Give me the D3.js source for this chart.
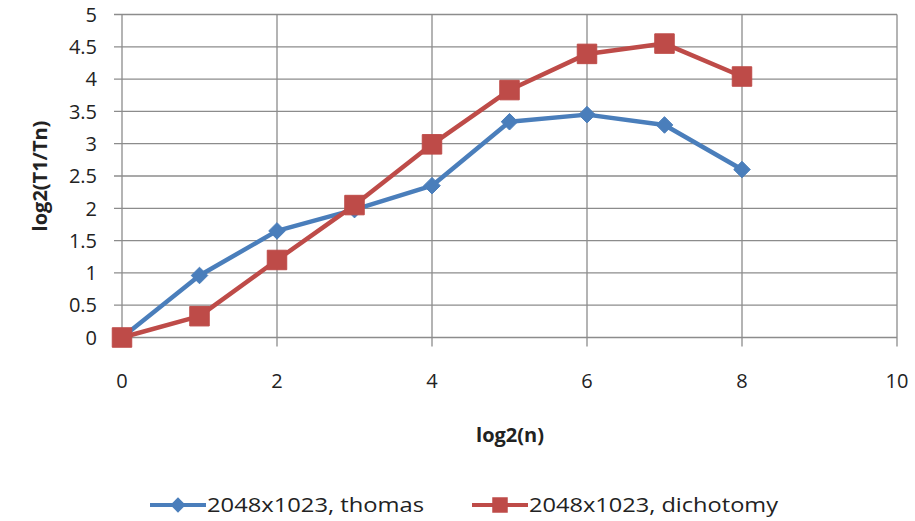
<!DOCTYPE html>
<html>
<head>
<meta charset="utf-8">
<script src="https://cdn.jsdelivr.net/npm/d3@7"></script>
<style>
  body { margin: 0; background: #fff; }
  text { font-family: "Open Sans", "Liberation Sans", sans-serif; fill: #222; }
</style>
</head>
<body>
<script>
//Width and height
var w = 915;
var h = 521;

//Data
var xValues = [0, 1, 2, 3, 4, 5, 6, 7, 8];
var thomas = [0, 0.96, 1.65, 1.98, 2.35, 3.34, 3.45, 3.29, 2.6];
var dichotomy = [0, 0.33, 1.2, 2.05, 2.99, 3.83, 4.39, 4.55, 4.04];
var seriesNames = ["2048x1023, thomas", "2048x1023, dichotomy"];
var xTicks = [0, 2, 4, 6, 8, 10];
var yTicks = [0, 0.5, 1, 1.5, 2, 2.5, 3, 3.5, 4, 4.5, 5];

var blue = "#4a7ebb";
var red = "#be4b48";
var grid = "#8c8c8c";

//Scales
var xScale = d3.scaleLinear().domain([0, 10]).range([122, 897]);
var yScale = d3.scaleLinear().domain([0, 5]).range([337.5, 14.5]);

var svg = d3.select("body")
    .append("svg")
    .attr("width", w)
    .attr("height", h);

//Horizontal gridlines (extending left of the axis as ticks)
svg.append("g")
    .selectAll("line")
    .data(yTicks)
    .enter()
    .append("line")
    .attr("x1", 114)
    .attr("x2", xScale(10))
    .attr("y1", d => yScale(d))
    .attr("y2", d => yScale(d))
    .attr("stroke", grid)
    .attr("stroke-width", 1.3);

//Vertical gridlines (extending below the axis as ticks)
svg.append("g")
    .selectAll("line")
    .data(xTicks)
    .enter()
    .append("line")
    .attr("x1", d => xScale(d))
    .attr("x2", d => xScale(d))
    .attr("y1", yScale(5))
    .attr("y2", d => yScale(0) + 9)
    .attr("stroke", grid)
    .attr("stroke-width", 1.3);

//Y tick labels
svg.append("g")
    .selectAll("text")
    .data(yTicks)
    .enter()
    .append("text")
    .attr("x", 97)
    .attr("y", d => yScale(d))
    .attr("dy", "0.36em")
    .attr("text-anchor", "end")
    .attr("font-size", 20)
    .text(d => d);

//X tick labels
svg.append("g")
    .selectAll("text")
    .data(xTicks)
    .enter()
    .append("text")
    .attr("x", d => xScale(d))
    .attr("y", 388)
    .attr("text-anchor", "middle")
    .attr("font-size", 20)
    .text(d => d);

//Axis titles
svg.append("text")
    .attr("x", 510)
    .attr("y", 442)
    .attr("text-anchor", "middle")
    .attr("font-size", 20)
    .attr("font-weight", "bold")
    .text("log2(n)");

svg.append("text")
    .attr("transform", "translate(47,176) rotate(-90)")
    .attr("text-anchor", "middle")
    .attr("font-size", 20)
    .attr("font-weight", "bold")
    .text("log2(T1/Tn)");

//Lines
var line = d3.line()
    .x((d, i) => xScale(xValues[i]))
    .y(d => yScale(d));

svg.append("path")
    .datum(thomas)
    .attr("d", line)
    .attr("fill", "none")
    .attr("stroke", blue)
    .attr("stroke-width", 4.5)
    .attr("stroke-linejoin", "round");

svg.append("path")
    .datum(dichotomy)
    .attr("d", line)
    .attr("fill", "none")
    .attr("stroke", red)
    .attr("stroke-width", 4.5)
    .attr("stroke-linejoin", "round");

//Markers
var diamond = d3.symbol().type(d3.symbolDiamond2).size(175);
var square = d3.symbol().type(d3.symbolSquare).size(380);

svg.append("g")
    .selectAll("path")
    .data(thomas)
    .enter()
    .append("path")
    .attr("d", diamond)
    .attr("transform", (d, i) => "translate(" + xScale(xValues[i]) + "," + yScale(d) + ")")
    .attr("fill", blue)
    .attr("stroke", blue)
    .attr("stroke-width", 1);

svg.append("g")
    .selectAll("path")
    .data(dichotomy)
    .enter()
    .append("path")
    .attr("d", square)
    .attr("transform", (d, i) => "translate(" + xScale(xValues[i]) + "," + yScale(d) + ")")
    .attr("fill", red)
    .attr("stroke", red)
    .attr("stroke-width", 1);

//Legend (markers a bit smaller than in the plot)
var legend = svg.append("g");
var legendItems = [
    {name: seriesNames[0], color: blue, sym: d3.symbol().type(d3.symbolDiamond2).size(150), x: 150, len: 217},
    {name: seriesNames[1], color: red, sym: d3.symbol().type(d3.symbolSquare).size(240), x: 472, len: 249}
];

legendItems.forEach(function(d) {
    legend.append("line")
        .attr("x1", d.x)
        .attr("x2", d.x + 56)
        .attr("y1", 505)
        .attr("y2", 505)
        .attr("stroke", d.color)
        .attr("stroke-width", 4);
    legend.append("path")
        .attr("d", d.sym)
        .attr("transform", "translate(" + (d.x + 28) + ",505)")
        .attr("fill", d.color);
    legend.append("text")
        .attr("x", d.x + 57)
        .attr("y", 505)
        .attr("dy", "0.36em")
        .attr("font-size", 20)
        .attr("textLength", d.len)
        .attr("lengthAdjust", "spacingAndGlyphs")
        .text(d.name);
});
</script>
</body>
</html>
